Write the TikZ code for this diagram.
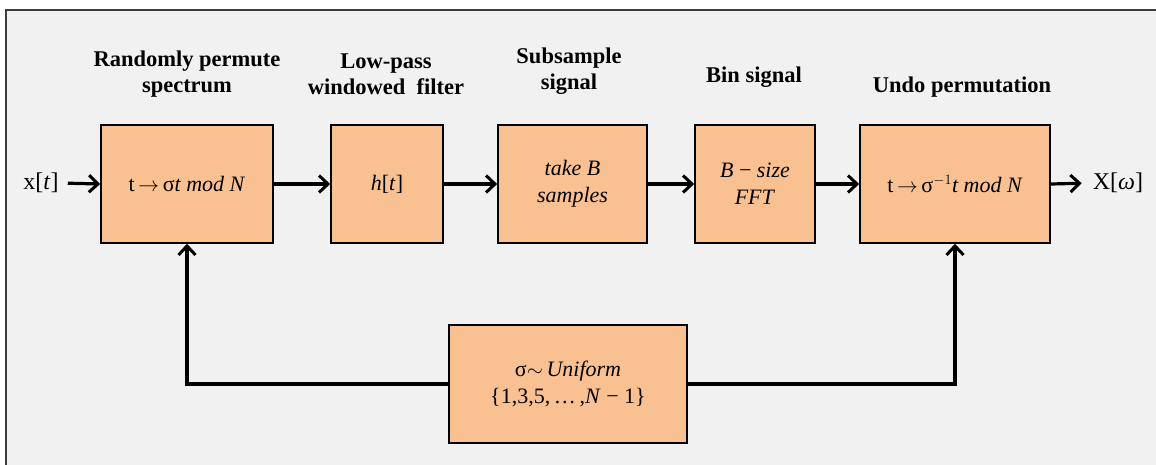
\documentclass[tikz,border=0pt]{standalone}
\usepackage{fontspec}
\setmainfont{Liberation Serif}
\usetikzlibrary{arrows.meta}
\definecolor{peach}{RGB}{249,193,145}
\definecolor{bg}{RGB}{241,241,241}
\definecolor{frame}{RGB}{60,60,60}
\tikzset{
  block/.style={draw=black, line width=1.6pt, fill=peach, minimum height=118pt,
     inner sep=0pt, align=center, font=\fontsize{22}{27}\selectfont},
  title/.style={align=center, font=\fontsize{22.5}{25.5}\selectfont\bfseries},
  lbl/.style={font=\fontsize{24}{28}\selectfont, inner sep=0pt},
  flow/.style={line width=3.2pt, -{Straight Barb[length=9pt,width=17pt,line width=3pt]}}
}
\begin{document}
\begin{tikzpicture}[x=1pt,y=-1pt]
\useasboundingbox (0,0) rectangle (1156,465);
\fill[white] (0,0) rectangle (1156,465);
\fill[bg] (6,10) rectangle (1156,465);
\draw[frame, line width=1.8pt] (6,465) -- (6,10) -- (1156,10);

\node[title] (t1) at (187,74) {Randomly permute\\spectrum};
\node[title] (t2) at (386,74) {Low-pass\\windowed\ \ filter};
\node[title] (t3) at (569,71) {Subsample\\signal};
\node[title] (t4) at (754,77) {Bin signal};
\node[title] (t5) at (962,87) {Undo permutation};

\node[block, minimum width=172pt] (b1) at (187,184) {t\,$\rightarrow$\,σ\textit{t mod N}};
\node[block, minimum width=112pt] (b2) at (387,184) {\textit{h}[\textit{t}]};
\node[block, minimum width=149pt] (b3) at (572.5,184) {\textit{take B}\\\textit{samples}};
\node[block, minimum width=120pt] (b4) at (755,184) {\textit{B} − \textit{size}\\\textit{FFT}};
\node[block, minimum width=190pt] (b5) at (955,184) {t\,$\rightarrow$\,σ$^{-1}$\textit{t mod N}};
\node[block, minimum width=238pt] (b6) at (568,384) {σ$\sim$\,\textit{Uniform}\\\{1,3,5,\,…\,,\textit{N} − 1\}};

\node[lbl] (in) at (41,183) {x[\textit{t}]};
\node[lbl] (out) at (1118,183) {X[\textit{ω}]};

\draw[flow, shorten <=9pt] (in.east) -- (b1.west);
\draw[flow] (b1) -- (b2);
\draw[flow] (b2) -- (b3);
\draw[flow] (b3) -- (b4);
\draw[flow] (b4) -- (b5);
\draw[flow, shorten >=11pt] (b5.east) -- (out.west);
\draw[flow] (b6.west) -| (b1.south);
\draw[flow] (b6.east) -| (b5.south);
\end{tikzpicture}
\end{document}
